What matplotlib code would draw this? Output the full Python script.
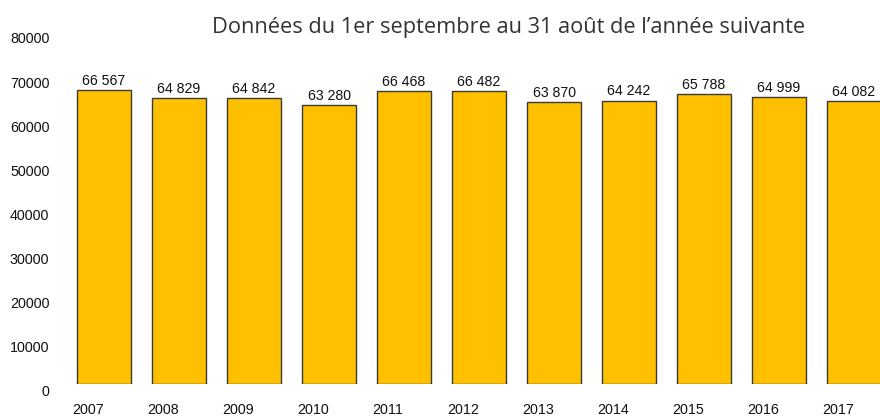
import matplotlib.pyplot as plt
import matplotlib.transforms as mtransforms

years = ["2007", "2008", "2009", "2010", "2011", "2012", "2013", "2014", "2015", "2016", "2017"]
values = [66567, 64829, 64842, 63280, 66468, 66482, 63870, 64242, 65788, 64999, 64082]
yticks = [0, 10000, 20000, 30000, 40000, 50000, 60000, 70000, 80000]
title = "Données du 1er septembre au 31 août de l\u2019année suivante"

plt.rcParams["font.family"] = ["Liberation Sans", "DejaVu Sans"]

fig = plt.figure(figsize=(8.8, 4.16), dpi=100)
W, H = 880, 416
# axes box in pixels: left 66, right 880, top 31, bottom 384
ax = fig.add_axes([66 / W, (H - 384) / H, (880 - 66) / W, (384 - 31) / H])

x = list(range(len(years)))
ax.bar(x, values, width=0.707, color="#FFC000", edgecolor="#3a3a3a", linewidth=1.0)
ax.set_xlim((66 - 104) / 75, (880 - 104) / 75)
ax.set_ylim(0, 80000)

for xi, v in zip(x, values):
    label = f"{v:,}".replace(",", " ")
    ax.annotate(label, (xi, v), xytext=(0, 1.5), textcoords="offset points",
                ha="center", va="bottom", fontsize=10.2, color="#111111")

for s in ax.spines.values():
    s.set_visible(False)

ax.set_yticks(yticks)
ax.set_yticklabels([str(t) for t in yticks])
ax.set_xticks(x)
ax.set_xticklabels(years)
ax.tick_params(axis="both", length=0, labelsize=10.3, labelcolor="#111111")
ax.tick_params(axis="y", pad=12)
ax.tick_params(axis="x", pad=14)

ydown = mtransforms.ScaledTranslation(0, -7 / 100, fig.dpi_scale_trans)
for lab in ax.get_yticklabels():
    lab.set_transform(lab.get_transform() + ydown)
xleft = mtransforms.ScaledTranslation(-16 / 100, 0, fig.dpi_scale_trans)
for lab in ax.get_xticklabels():
    lab.set_transform(lab.get_transform() + xleft)

fig.text(509 / W, 1 - 28 / H, title, ha="center", va="center", fontsize=15.7,
         color="#333333", family=["Open Sans", "DejaVu Sans"])

fig.savefig("out.png", dpi=100)
